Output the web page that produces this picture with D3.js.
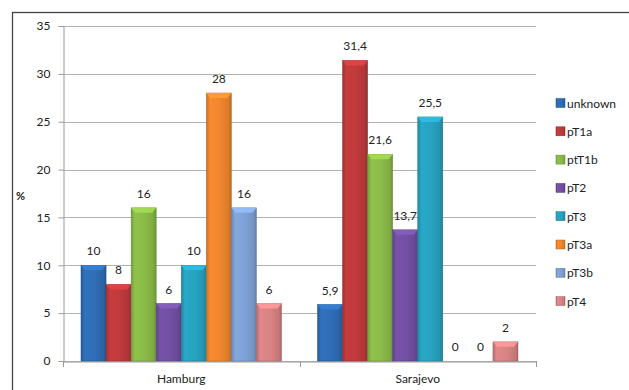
<!DOCTYPE html>
<html>
<head>
<meta charset="utf-8">
<script src="https://cdn.jsdelivr.net/npm/d3@7/dist/d3.min.js"></script>
<style>
  html, body { margin: 0; padding: 0; background: #fff; }
  svg { display: block; font-family: Lato, "Open Sans", sans-serif; }
</style>
</head>
<body>
<svg id="chart" width="629" height="390"></svg>
<script>
// Tumour stage distribution (%) per centre
const cities = ["Hamburg", "Sarajevo"];
const series = ["unknown", "pT1a", "ptT1b", "pT2", "pT3", "pT3a", "pT3b", "pT4"];
const hamburg = [10, 8, 16, 6, 10, 28, 16, 6];
const sarajevo = [5.9, 31.4, 21.6, 13.7, 25.5, 0, 0, 2];
const yTicks = [0, 5, 10, 15, 20, 25, 30, 35];
const colors = ["#2f6db5", "#c03a3c", "#8bbb48", "#7250a3", "#27a2c1", "#f0862e", "#7ea2d6", "#d98384"];

const values = { Hamburg: hamburg, Sarajevo: sarajevo };
const fmt = v => String(v).replace(".", ",");

const svg = d3.select("#chart");
const plot = { left: 63, right: 536, top: 26, bottom: 361 };

// chart frame
svg.append("rect")
  .attr("x", 12.5).attr("y", 12.5)
  .attr("width", 640).attr("height", 400)
  .attr("fill", "none").attr("stroke", "#444").attr("stroke-width", 1.3);

const x0 = d3.scaleBand().domain(cities).range([plot.left, plot.right]).paddingInner(0).paddingOuter(0);
const x1 = d3.scaleBand().domain(series).range([18, x0.bandwidth() - 18]);
const y = d3.scaleLinear().domain([0, 35]).range([plot.bottom, plot.top]);

// gradients for a rounded bar look
const defs = svg.append("defs");
colors.forEach((c, i) => {
  const g = defs.append("linearGradient").attr("id", "g" + i).attr("x1", 0).attr("x2", 1).attr("y1", 0).attr("y2", 0);
  const base = d3.color(c);
  g.append("stop").attr("offset", "0%").attr("stop-color", base.darker(0.5));
  g.append("stop").attr("offset", "15%").attr("stop-color", base.brighter(0.1));
  g.append("stop").attr("offset", "55%").attr("stop-color", base);
  g.append("stop").attr("offset", "88%").attr("stop-color", base.darker(0.25));
  g.append("stop").attr("offset", "100%").attr("stop-color", base.darker(0.7));
});

// gridlines
svg.append("g").selectAll("line").data(yTicks).join("line")
  .attr("x1", plot.left).attr("x2", plot.right)
  .attr("y1", d => Math.round(y(d)) + 0.5).attr("y2", d => Math.round(y(d)) + 0.5)
  .attr("stroke", "#b3b3b3").attr("stroke-width", 1);

// y axis
const yAxis = svg.append("g").attr("transform", `translate(${plot.left + 0.5},0)`)
  .call(d3.axisLeft(y).tickValues(yTicks).tickSize(5).tickPadding(8));
yAxis.select(".domain").attr("stroke", "#9a9a9a");
yAxis.selectAll(".tick line").attr("stroke", "#9a9a9a");
yAxis.selectAll(".tick text").attr("font-size", 12).attr("fill", "#222").attr("font-family", "Lato, sans-serif");

// x axis
const xAxis = svg.append("g").attr("transform", `translate(0,${Math.round(y(0)) + 0.5})`)
  .call(d3.axisBottom(x0).tickSize(0).tickPadding(13));
xAxis.select(".domain").attr("stroke", "#9a9a9a");
xAxis.selectAll(".tick text").attr("font-size", 12).attr("fill", "#222").attr("font-family", "Lato, sans-serif");
svg.append("g").selectAll("line").data([plot.left, x0("Sarajevo"), plot.right]).join("line")
  .attr("x1", d => Math.round(d) + 0.5).attr("x2", d => Math.round(d) + 0.5)
  .attr("y1", Math.round(y(0))).attr("y2", Math.round(y(0)) + 6)
  .attr("stroke", "#9a9a9a");

// "%" axis title
svg.append("text").attr("x", 16).attr("y", 200)
  .attr("font-size", 11).attr("font-weight", "bold").attr("fill", "#222").text("%");

// bars
const data = [];
cities.forEach(city => values[city].forEach((v, i) => data.push({ city, s: series[i], i, v })));

const bars = svg.append("g").selectAll("g").data(data).join("g")
  .attr("transform", d => `translate(${x0(d.city) + x1(d.s)},0)`);

const bw = x1.bandwidth();
bars.filter(d => d.v > 0).append("rect")
  .attr("x", 0).attr("y", d => y(d.v))
  .attr("width", bw).attr("height", d => y(0) - y(d.v))
  .attr("fill", d => `url(#g${d.i})`)
  .attr("stroke", d => d3.color(colors[d.i]).darker(0.8)).attr("stroke-width", 0.5);

// bevelled top
bars.filter(d => d.v > 0).append("path")
  .attr("d", d => {
    const t = y(d.v), h = Math.min(5, y(0) - y(d.v));
    return `M0,${t} L${bw},${t} L${bw - 4},${t + h} L4,${t + h} Z`;
  })
  .attr("fill", d => d3.color(colors[d.i]).brighter(0.45))
  .attr("opacity", 0.9);

// value labels
bars.append("text")
  .attr("x", bw / 2).attr("y", d => y(d.v) - 10)
  .attr("text-anchor", "middle").attr("font-size", 12).attr("fill", "#222")
  .text(d => fmt(d.v));

// legend
const lg = svg.append("g").selectAll("g").data(series).join("g")
  .attr("transform", (d, i) => `translate(556,${103 + i * 28.3})`);
lg.append("rect").attr("x", 0).attr("y", -4.5).attr("width", 9).attr("height", 9)
  .attr("fill", (d, i) => `url(#g${i})`)
  .attr("stroke", (d, i) => d3.color(colors[i]).darker(0.8)).attr("stroke-width", 0.5);
lg.append("text").attr("x", 11).attr("y", 4.5)
  .attr("font-size", 12).attr("fill", "#222").text(d => d);
</script>
</body>
</html>
